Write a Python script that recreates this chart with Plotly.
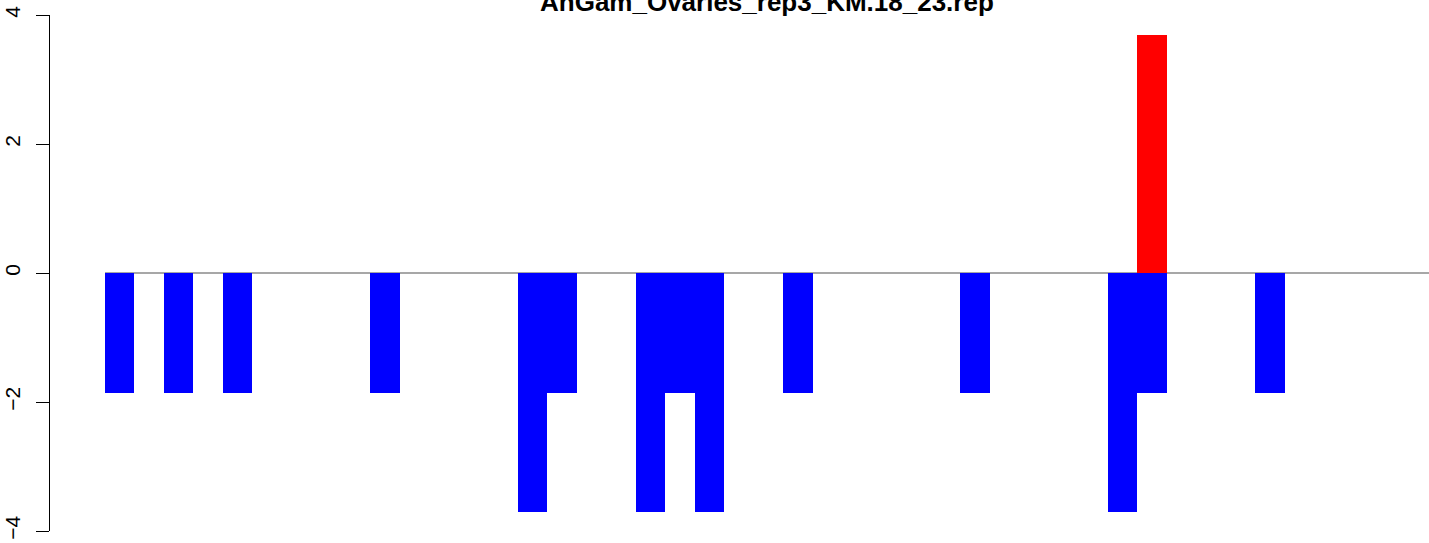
import plotly.graph_objects as go

title_text = "AnGam_Ovaries_rep3_KM.18_23.rep"

# bar positions (slot index) and values
neg_positions = [0, 2, 4, 9, 14, 15, 18, 19, 20, 23, 29, 34, 35, 39]
neg_values = [-1.855, -1.855, -1.855, -1.855, -3.71, -1.855, -3.71, -1.855, -3.71,
              -1.855, -1.855, -3.71, -1.855, -1.855]
pos_positions = [35]
pos_values = [3.69]

y_ticks = [-4, -2, 0, 2, 4]

W, H = 1429, 543
left_px, right_px, top_px, bottom_px = 50, 1429, 15, 531
bar_w = 29.49
first_left = 105
x_lo = (left_px - first_left) / bar_w - 0.5
x_hi = (right_px - first_left) / bar_w - 0.5

font_family = "Liberation Sans, Arial, Helvetica, sans-serif"

fig = go.Figure()
fig.add_trace(go.Bar(x=neg_positions, y=neg_values, width=1.0,
                     marker=dict(color="#0000FF", line=dict(width=0)),
                     showlegend=False, hoverinfo="skip"))
fig.add_trace(go.Bar(x=pos_positions, y=pos_values, width=1.0,
                     marker=dict(color="#FF0000", line=dict(width=0)),
                     showlegend=False, hoverinfo="skip"))

fig.add_shape(type="line", xref="x", yref="y", x0=-0.5, x1=x_hi, y0=0, y1=0,
              line=dict(color="#8a8a8a", width=1.6), layer="below")

plot_h = bottom_px - top_px
fig.add_annotation(text="<b>" + title_text + "</b>", xref="paper", yref="paper",
                   x=(767.5 - left_px) / (right_px - left_px),
                   y=1 + (top_px - 2.5) / plot_h, xanchor="center", yanchor="middle",
                   showarrow=False, font=dict(size=26, color="black", family=font_family))

fig.update_layout(
    width=W, height=H,
    margin=dict(l=left_px, r=W - right_px, t=top_px, b=H - bottom_px, pad=0),
    plot_bgcolor="white", paper_bgcolor="white",
    barmode="overlay", bargap=0,
    font=dict(family=font_family, color="black"),
    xaxis=dict(range=[x_lo, x_hi], visible=False, showgrid=False, zeroline=False),
    yaxis=dict(range=[-4, 4], tickvals=y_ticks, ticktext=[str(v).replace("-", "\u2212") for v in y_ticks],
               showline=True, linecolor="black", linewidth=1,
               ticks="outside", ticklen=13, tickwidth=1, tickcolor="black",
               tickangle=-90, tickfont=dict(size=21, color="black"),
               ticklabelstandoff=8,
               showgrid=False, zeroline=False),
)

fig.write_html("out.html", config={"displayModeBar": False},
               post_script="document.body.style.margin='0';document.body.style.overflow='hidden';")
